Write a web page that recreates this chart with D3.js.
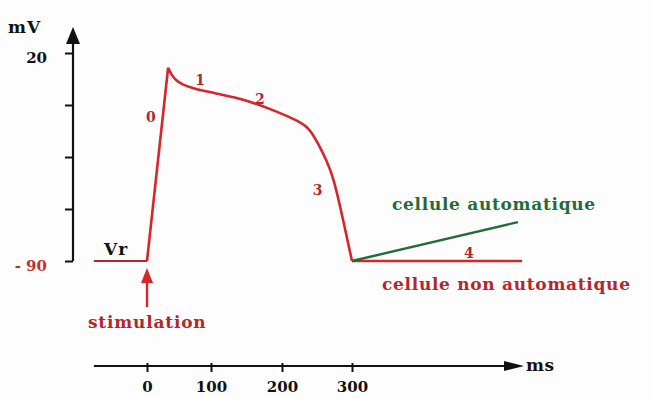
<!DOCTYPE html>
<html>
<head>
<meta charset="utf-8">
<script src="https://cdn.jsdelivr.net/npm/d3@7"></script>
<style>
  body { margin: 0; background: #fdfdfd; }
  svg { display: block; }
  .lbl { font-family: "DejaVu Serif", serif; font-weight: bold; }
</style>
</head>
<body>
<div id="chart"></div>
<script>
// Tick values
var timeTicks = [0, 100, 200, 300];
var voltTicks = [20, -7.5, -35, -62.5, -90];

// Action potential of a non automatic cell (ms, mV)
var restTime = [-83, 0];
var restVolt = [-90, -90];
var upTime = [0, 33];
var upVolt = [-90, 12.2];
var plateauTime = [33, 38, 45, 55, 70, 93, 141, 183, 228, 240, 252, 264, 274, 286, 300];
var plateauVolt = [12.2, 8.6, 5.6, 3.3, 1.5, -0.4, -3.8, -9.4, -16.6, -20.5, -28.2, -37.0, -46.5, -66.0, -90];

// Phase 4
var phase4Time = [300, 543];
var phase4Volt = [-90, -90];
var autoTime = [300, 537];
var autoVolt = [-90, -69.4];

(function() {
    var width = 650, height = 399;

    var svg = d3.select("#chart")
        .append("svg")
        .attr("width", width)
        .attr("height", height);

    // hand drawn axis: tick spacing is not quite even
    var x = d3.scaleLinear().domain([0, 100, 200, 300]).range([147, 211, 282, 352]);
    var y = d3.scaleLinear().domain([-90, 20]).range([261, 53]);

    var red = "#d6252b", darkRed = "#b5262c", green = "#236b39", ink = "#111";

    function pts(t, v) { return t.map(function(d, i) { return [d, v[i]]; }); }
    var line = d3.line().x(function(d) { return x(d[0]); }).y(function(d) { return y(d[1]); });

    // Y axis
    var yAxis = svg.append("g")
        .attr("transform", "translate(73,0)")
        .call(d3.axisLeft(y).tickValues(voltTicks).tickSize(8).tickPadding(18)
            .tickFormat(function(d) { return d === 20 ? "20" : d === -90 ? "- 90" : ""; }));
    yAxis.select(".domain").remove();
    yAxis.selectAll(".tick line").attr("stroke", ink).attr("stroke-width", 2);
    yAxis.selectAll(".tick text")
        .attr("class", "lbl")
        .attr("font-size", 15)
        .attr("dy", "0.6em")
        .attr("fill", function(d) { return d === -90 ? "#c0302f" : ink; });
    svg.append("line")
        .attr("x1", 73).attr("x2", 73)
        .attr("y1", y(-90)).attr("y2", 42)
        .attr("stroke", ink).attr("stroke-width", 2.2);
    svg.append("path")
        .attr("d", "M73,27L66,44L80,44Z")
        .attr("fill", ink);
    svg.append("text").attr("class", "lbl")
        .attr("x", 8).attr("y", 33)
        .attr("font-size", 17).attr("letter-spacing", 1)
        .attr("fill", ink).text("mV");

    // X axis
    var xAxis = svg.append("g")
        .attr("transform", "translate(0,366)")
        .call(d3.axisBottom(x).tickValues(timeTicks).tickSize(6).tickPadding(9));
    xAxis.select(".domain").remove();
    xAxis.selectAll(".tick line").attr("stroke", ink).attr("stroke-width", 2).attr("y1", -3);
    xAxis.selectAll(".tick text")
        .attr("class", "lbl")
        .attr("font-size", 15)
        .attr("fill", ink);
    svg.append("line")
        .attr("x1", x(-83)).attr("x2", 506)
        .attr("y1", 366).attr("y2", 366)
        .attr("stroke", ink).attr("stroke-width", 2.2);
    svg.append("path")
        .attr("d", "M504,361L524,366L504,371Z")
        .attr("fill", ink);
    svg.append("text").attr("class", "lbl")
        .attr("x", 526).attr("y", 371)
        .attr("font-size", 17).attr("letter-spacing", 0.5)
        .attr("fill", ink).text("ms");

    // Curves
    svg.append("path")
        .attr("d", line(pts(restTime, restVolt)))
        .attr("fill", "none").attr("stroke", darkRed).attr("stroke-width", 2.2);
    svg.append("path")
        .attr("d", line(pts(upTime, upVolt)))
        .attr("fill", "none").attr("stroke", red).attr("stroke-width", 2.6);
    svg.append("path")
        .attr("d", line.curve(d3.curveBasis)(pts(plateauTime, plateauVolt)))
        .attr("fill", "none").attr("stroke", red).attr("stroke-width", 2.6)
        .attr("stroke-linejoin", "round");
    line.curve(d3.curveLinear);
    svg.append("path")
        .attr("d", line(pts(phase4Time, phase4Volt)))
        .attr("fill", "none").attr("stroke", red).attr("stroke-width", 2.4);
    svg.append("path")
        .attr("d", line(pts(autoTime, autoVolt)))
        .attr("fill", "none").attr("stroke", green).attr("stroke-width", 2.4);

    // Phase numbers
    var phases = [
        {t: 6, v: -13.8, s: "0"},
        {t: 83, v: 5.7, s: "1"},
        {t: 169, v: -4.3, s: "2"},
        {t: 251, v: -52.4, s: "3"},
        {t: 467, v: -85.8, s: "4"}
    ];
    svg.selectAll(".phase")
        .data(phases)
        .enter()
        .append("text")
        .attr("class", "lbl")
        .attr("x", function(d) { return x(d.t); })
        .attr("y", function(d) { return y(d.v); })
        .attr("dy", "0.36em")
        .attr("text-anchor", "middle")
        .attr("font-size", 14)
        .attr("fill", darkRed)
        .text(function(d) { return d.s; });

    // Resting potential label
    svg.append("text").attr("class", "lbl")
        .attr("x", 104).attr("y", 255)
        .attr("font-size", 17).attr("letter-spacing", 1)
        .attr("fill", ink).text("Vr");

    // Stimulation arrow
    svg.append("line")
        .attr("x1", x(0)).attr("x2", x(0))
        .attr("y1", 307).attr("y2", 281)
        .attr("stroke", red).attr("stroke-width", 2.4);
    svg.append("path")
        .attr("d", "M" + x(0) + ",268L" + (x(0) - 6) + ",283L" + (x(0) + 6) + ",283Z")
        .attr("fill", red);
    svg.append("text").attr("class", "lbl")
        .attr("x", 88).attr("y", 328)
        .attr("font-size", 17).attr("letter-spacing", 0.8)
        .attr("fill", darkRed).text("stimulation");

    // Cell type labels
    svg.append("text").attr("class", "lbl")
        .attr("x", 392).attr("y", 210)
        .attr("font-size", 17).attr("letter-spacing", 0.7)
        .attr("fill", green).text("cellule automatique");
    svg.append("text").attr("class", "lbl")
        .attr("x", 382).attr("y", 290)
        .attr("font-size", 17).attr("letter-spacing", 0.7)
        .attr("fill", darkRed).text("cellule non automatique");
})();
</script>
</body>
</html>
